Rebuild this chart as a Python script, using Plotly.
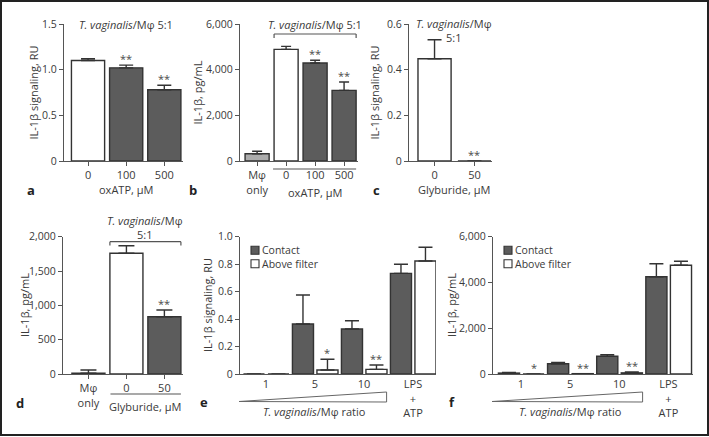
import plotly.graph_objects as go

W, H = 709, 437

# ---------------- data ----------------
A_CATS = ["0", "100", "500"]
A_VALUES = [1.10, 1.02, 0.78]
A_ERRORS = [0.02, 0.03, 0.05]
A_SIG = ["", "**", "**"]

B_CATS = ["Mφ<br>only", "0", "100", "500"]
B_VALUES = [320, 4890, 4290, 3095]
B_ERRORS = [105, 130, 120, 365]
B_SIG = ["", "", "**", "**"]

C_CATS = ["0", "50"]
C_VALUES = [0.448, 0.0]
C_ERRORS = [0.083, 0.0]
C_SIG = ["", "**"]

D_CATS = ["Mφ<br>only", "0", "50"]
D_VALUES = [12, 1758, 835]
D_ERRORS = [46, 111, 97]
D_SIG = ["", "", "**"]

RATIO_CATS = ["1", "5", "10", "LPS<br>+<br>ATP"]
E_CONTACT = [0, 0.364, 0.328, 0.733]
E_CONTACT_ERR = [0, 0.211, 0.060, 0.066]
E_ABOVE = [0, 0.029, 0.034, 0.823]
E_ABOVE_ERR = [0, 0.078, 0.032, 0.100]
E_ABOVE_SIG = ["", "*", "**", ""]

F_CONTACT = [40, 450, 773, 4252]
F_CONTACT_ERR = [25, 57, 72, 568]
F_ABOVE = [0, 15, 50, 4750]
F_ABOVE_ERR = [0, 0, 40, 175]
F_ABOVE_SIG = ["*", "**", "**", ""]

A_TICKS = [0, 0.5, 1.0, 1.5]
A_TICKTEXT = ["0", "0.5", "1.0", "1.5"]
B_TICKS = [0, 2000, 4000, 6000]
B_TICKTEXT = ["0", "2,000", "4,000", "6,000"]
C_TICKS = [0, 0.2, 0.4, 0.6]
C_TICKTEXT = ["0", "0.2", "0.4", "0.6"]
D_TICKS = [0, 500, 1000, 1500, 2000]
D_TICKTEXT = ["0", "500", "1,000", "1,500", "2,000"]
E_TICKS = [0, 0.2, 0.4, 0.6, 0.8, 1.0]
E_TICKTEXT = ["0", "0.2", "0.4", "0.6", "0.8", "1.0"]
F_TICKS = [0, 2000, 4000, 6000]
F_TICKTEXT = ["0", "2,000", "4,000", "6,000"]

# ---------------- style ----------------
FONT = "Open Sans, Noto Sans, DejaVu Sans, sans-serif"
DARK = "#5c5c5c"
GRAY = "#acacac"
WHITE = "#ffffff"
INK = "#333333"
AXC = "#555555"
TXT = "#3a3a3a"

A_COLORS = [WHITE, DARK, DARK]
B_COLORS = [GRAY, WHITE, DARK, DARK]
C_COLORS = [WHITE, DARK]
D_COLORS = [GRAY, WHITE, DARK]


def xp(px):
    return px / W


def yp(py):
    return 1 - py / H


TOP = (24, 161)
BOT = (236.7, 374)

# suffix, x-domain(px), y-domain(px), x-range, y-range, ticks, ticktext, xticks
PANELS = {
    "a": ("", (64, 183), TOP, (-0.63, 2.49), (0, 1.5), A_TICKS, A_TICKTEXT, "outside"),
    "b": ("2", (240, 358), TOP, (-0.59, 3.48), (0, 6000), B_TICKS, B_TICKTEXT, "outside"),
    "c": ("3", (409, 492), TOP, (-0.64, 1.44), (0, 0.6), C_TICKS, C_TICKTEXT, "outside"),
    "d": ("4", (63, 183), BOT, (-0.67, 2.49), (0, 2000), D_TICKS, D_TICKTEXT, "outside"),
    "e": ("5", (240, 436), BOT, (-0.53, 3.47), (0, 1.0), E_TICKS, E_TICKTEXT, ""),
    "f": ("6", (493, 693), BOT, (-0.57, 3.5), (0, 6000), F_TICKS, F_TICKTEXT, ""),
}

fig = go.Figure()
layout = {}
for name, (suf, xd, yd, xr, yr, tv, tt, xticks) in PANELS.items():
    layout["xaxis" + suf] = dict(
        domain=[xp(xd[0]), xp(xd[1])], range=list(xr), anchor="y" + suf,
        type="category", showline=True, linecolor=AXC, linewidth=1.3,
        ticks=xticks, ticklen=4, tickwidth=1.3, tickcolor=AXC,
        showgrid=False, zeroline=False, fixedrange=True, automargin=False,
        tickfont=dict(family=FONT, size=11, color=TXT),
    )
    layout["yaxis" + suf] = dict(
        domain=[yp(yd[1]), yp(yd[0])], range=list(yr), anchor="x" + suf,
        showline=True, linecolor=AXC, linewidth=1.3,
        ticks="outside", ticklen=4, tickwidth=1.3, tickcolor=AXC,
        tickvals=tv, ticktext=tt, showgrid=False, zeroline=False, fixedrange=True,
        automargin=False, tickfont=dict(family=FONT, size=10.5, color=TXT),
    )


def err(arr, w):
    return dict(type="data", array=arr, arrayminus=[0] * len(arr), symmetric=False,
                color=INK, thickness=1.4, width=w)


def single(cats, vals, errs, colors, suf, width, capw):
    fig.add_trace(go.Bar(
        x=cats, y=vals, width=width, xaxis="x" + suf, yaxis="y" + suf,
        marker=dict(color=colors, line=dict(color=INK, width=1.4)),
        error_y=err(errs, capw), showlegend=False, hoverinfo="skip"))


single(A_CATS, A_VALUES, A_ERRORS, A_COLORS, "", 0.87, 7)
single(B_CATS, B_VALUES, B_ERRORS, B_COLORS, "2", 0.83, 5)
single(C_CATS, C_VALUES, C_ERRORS, C_COLORS, "3", 0.83, 7)
single(D_CATS, D_VALUES, D_ERRORS, D_COLORS, "4", 0.87, 8)

BW = 0.43
OFF_C = -0.46
OFF_A = 0.04
for suf, cv, ce, av, ae in (("5", E_CONTACT, E_CONTACT_ERR, E_ABOVE, E_ABOVE_ERR),
                            ("6", F_CONTACT, F_CONTACT_ERR, F_ABOVE, F_ABOVE_ERR)):
    fig.add_trace(go.Bar(
        x=RATIO_CATS, y=cv, width=BW, offset=OFF_C, name="Contact",
        xaxis="x" + suf, yaxis="y" + suf,
        marker=dict(color=DARK, line=dict(color=INK, width=1.4)),
        error_y=err(ce, 7), showlegend=False, hoverinfo="skip"))
    fig.add_trace(go.Bar(
        x=RATIO_CATS, y=av, width=BW, offset=OFF_A, name="Above filter",
        xaxis="x" + suf, yaxis="y" + suf,
        marker=dict(color=WHITE, line=dict(color=INK, width=1.4)),
        error_y=err(ae, 7), showlegend=False, hoverinfo="skip"))

ann = []
shapes = []


def text(x, y, s, xref="paper", yref="paper", size=11, xanchor="center",
         yanchor="middle", angle=0, bold=False, color=TXT, pad=1):
    ann.append(dict(x=x, y=y, xref=xref, yref=yref, text=(f"<b>{s}</b>" if bold else s),
                    showarrow=False, xanchor=xanchor, yanchor=yanchor, textangle=angle,
                    borderpad=pad, font=dict(family=FONT, size=size, color=color)))


def stars(suf, xs, vals, errs, sigs):
    for x, v, e, s in zip(xs, vals, errs, sigs):
        if s:
            ann.append(dict(x=x, y=v + e, xref="x" + suf, yref="y" + suf, text=s,
                            showarrow=False, xanchor="center", yanchor="bottom", yshift=-3,
                            font=dict(family=FONT, size=11, color="#4a4a4a")))


stars("", range(3), A_VALUES, A_ERRORS, A_SIG)
stars("2", range(4), B_VALUES, B_ERRORS, B_SIG)
stars("3", range(2), C_VALUES, C_ERRORS, C_SIG)
stars("4", range(3), D_VALUES, D_ERRORS, D_SIG)
centre_a = [i + OFF_A + BW / 2 for i in range(4)]
stars("5", centre_a, E_ABOVE, E_ABOVE_ERR, E_ABOVE_SIG)
stars("6", centre_a, F_ABOVE, F_ABOVE_ERR, F_ABOVE_SIG)

LINE = dict(color="#555555", width=1.2)


def hline(xref, x0, x1, y):
    shapes.append(dict(type="line", xref=xref, yref="paper", x0=x0, x1=x1, y0=y, y1=y, line=LINE))


def vline(xref, x, y0, y1):
    shapes.append(dict(type="line", xref=xref, yref="paper", x0=x, x1=x, y0=y0, y1=y1, line=LINE))


TV = "<i>T. vaginalis</i>/Mφ"

# panel a
text(1, yp(24), TV + " 5:1", xref="x")
text(1, yp(190), "oxATP, µM", xref="x")
text(xp(33), yp(92.5), "IL-1β signaling, RU", angle=-90)
text(xp(31), yp(190), "a", size=13, bold=True, color="#222222")

# panel b
text(2, yp(24), TV + " 5:1", xref="x2")
hline("x2", 1 - 0.415, 3 + 0.415, yp(34))
vline("x2", 1 - 0.415, yp(34), yp(38))
vline("x2", 3 + 0.415, yp(34), yp(38))
hline("x2", 1 - 0.45, 3 + 0.415, yp(169))
text(2, yp(192.5), "oxATP, µM", xref="x2")
text(xp(197), yp(92.5), "IL-1β, pg/mL", angle=-90)
text(xp(193), yp(190), "b", size=13, bold=True, color="#222222")

# panel c
text(0.5, yp(30), TV + "<br>5:1", xref="x3")
text(0.5, yp(190), "Glyburide, µM", xref="x3")
text(xp(374), yp(92.5), "IL-1β signaling, RU", angle=-90)
text(xp(377), yp(190), "c", size=13, bold=True, color="#222222")

# panel d
text(1.5, yp(227), TV + "<br>5:1", xref="x4")
hline("x4", 1 - 0.435, 2 + 0.435, yp(241.7))
vline("x4", 1 - 0.435, yp(241.7), yp(245.5))
vline("x4", 2 + 0.435, yp(241.7), yp(245.5))
hline("x4", 1 - 0.42, 2 + 0.435, yp(394))
text(1.5, yp(406), "Glyburide, µM", xref="x4")
text(xp(24), yp(305), "IL-1β, pg/mL", angle=-90)
text(xp(20), yp(403), "d", size=13, bold=True, color="#222222")

# panels e, f
for suf, xd, cx, lx, letter, ytitle in (("5", (240, 436), 207, 204, "e", "IL-1β signaling, RU"),
                                        ("6", (493, 693), 451, 452, "f", "IL-1β, pg/mL")):
    left = xp(xd[0] - 1)
    right = xp(xd[0] + 0.748 * (xd[1] - xd[0]))
    shapes.append(dict(type="path", xref="paper", yref="paper",
                       path=f"M {left},{yp(401.5)} L {right},{yp(392)} L {right},{yp(402)} Z",
                       line=dict(color="#666666", width=1), fillcolor="white"))
    text(1, yp(411), "<i>T. vaginalis</i>/Mφ ratio", xref="x" + suf)
    text(xp(cx), yp(305), ytitle, angle=-90)
    text(xp(lx), yp(402), letter, size=13, bold=True, color="#222222")
    sq = xd[0] + 11
    for i, (lab, col) in enumerate((("Contact", DARK), ("Above filter", WHITE))):
        yc = 250.3 + 13.4 * i
        shapes.append(dict(type="rect", xref="paper", yref="paper",
                           x0=xp(sq), x1=xp(sq + 8), y0=yp(yc + 4), y1=yp(yc - 4),
                           fillcolor=col, line=dict(color=INK, width=1.1)))
        text(xp(sq + 10), yp(yc), lab, xanchor="left", size=10.5, pad=0)

# frame
shapes.append(dict(type="rect", xref="paper", yref="paper", x0=xp(1), x1=xp(708),
                   y0=yp(435), y1=yp(1), line=dict(color="#222222", width=2)))

fig.update_layout(
    **layout,
    width=W, height=H, margin=dict(l=0, r=0, t=0, b=0, pad=0, autoexpand=False),
    paper_bgcolor="white", plot_bgcolor="white",
    barmode="overlay", showlegend=False,
    annotations=ann, shapes=shapes,
    font=dict(family=FONT, size=11, color=TXT),
)

fig.write_html("out.html", config={"displayModeBar": False},
               post_script="document.body.style.margin='0px';document.body.style.padding='0px';")
